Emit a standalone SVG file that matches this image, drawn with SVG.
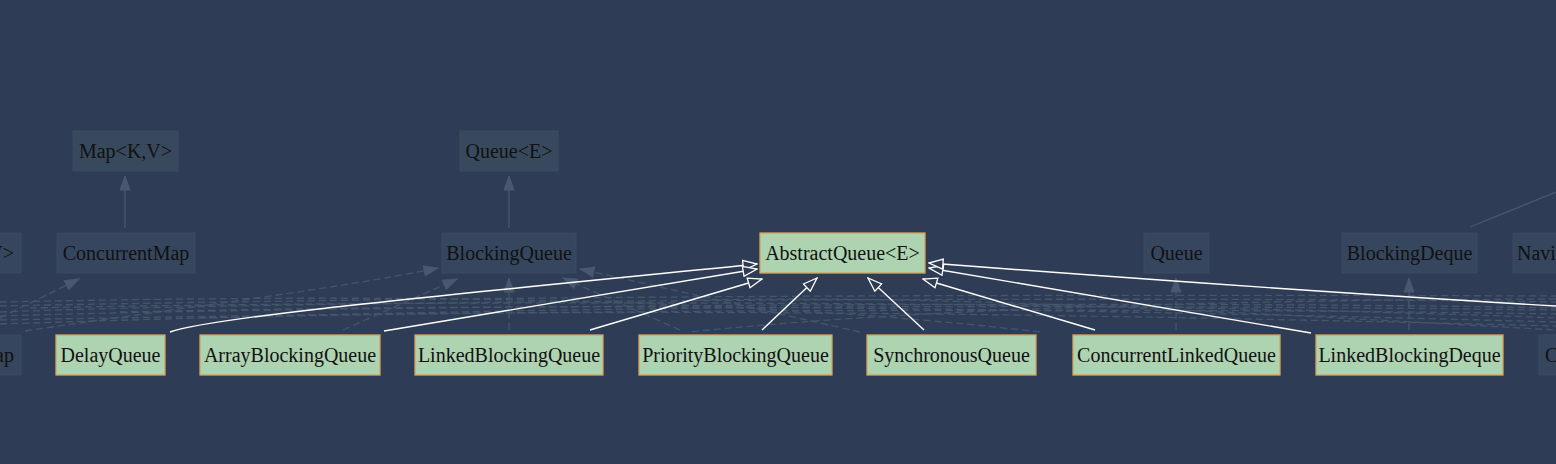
<svg xmlns="http://www.w3.org/2000/svg" width="1556" height="464" viewBox="0 0 1556 464">
<defs>
<style>
.dim rect{fill:#36465e;stroke:#3a4a62;stroke-width:1}
.dimt rect{fill:#38495d;stroke:#3b4c60;stroke-width:1}
.cls rect{fill:#add3b1;stroke:#d9a45a;stroke-width:1.3}
text{font-family:"Liberation Serif","DejaVu Serif","Times New Roman",serif;font-size:20px;fill:#111}
.w{fill:none;stroke:#ffffff;stroke-width:1.4}
.s{fill:none;stroke:#48596f;stroke-width:1.3}
.d{fill:none;stroke:#45566c;stroke-width:1.3;stroke-dasharray:7,4}
</style>
<marker id="hw" markerWidth="16" markerHeight="12" refX="15" refY="6" orient="auto" markerUnits="userSpaceOnUse">
<path d="M1,1 L15,6 L1,11 Z" fill="#2e3d55" stroke="#ffffff" stroke-width="1.3"/>
</marker>
<marker id="fs" markerWidth="16" markerHeight="12" refX="15" refY="6" orient="auto" markerUnits="userSpaceOnUse">
<path d="M1,1 L15,6 L1,11 Z" fill="#48596f" stroke="#48596f" stroke-width="1"/>
</marker>
</defs>
<rect x="0" y="0" width="1556" height="464" fill="#2e3d55"/>

<g id="connectors">
<path class="d" d="M0,312 C300,300 1200,296 1556,302"/>
<path class="d" d="M0,316 C300,306 1200,300 1556,308"/>
<path class="d" d="M0,320 C400,312 1100,306 1556,314"/>
<path class="d" d="M30,308 C400,300 1100,300 1556,318"/>
<path class="d" d="M0,306 C500,296 1000,294 1556,296"/>
<path class="d" d="M120,312 C500,304 900,304 1556,322"/>
<path class="d" d="M0,324 C500,308 900,302 1556,310"/>
<path class="d" d="M200,318 C600,308 1000,312 1556,326"/>
<path class="d" d="M700,300 C900,296 1100,304 1556,330"/>
<path class="d" d="M0,302 C300,296 700,292 1040,332"/>
<path class="d" d="M1556,299 C1200,300 900,310 690,332"/>
<path class="d" d="M0,318 L79,279" marker-end="url(#fs)"/>
<path class="d" d="M25,331 C200,305 330,290 438,268" marker-end="url(#fs)"/>
<path class="d" d="M343,330 L457,279" marker-end="url(#fs)"/>
<path class="d" d="M509,330 L509,278" marker-end="url(#fs)"/>
<path class="d" d="M680,330 L563,278" marker-end="url(#fs)"/>
<path class="d" d="M860,332 L580,269" marker-end="url(#fs)"/>
<path class="d" d="M1176,330 L1176,278" marker-end="url(#fs)"/>
<path class="d" d="M1409,330 L1409,278" marker-end="url(#fs)"/>
<path class="s" d="M125,228 L125,176" marker-end="url(#fs)"/>
<path class="s" d="M509,228 L509,176" marker-end="url(#fs)"/>
<path class="s" d="M1470,227 L1556,192"/>
<path class="w" d="M170,332 C215,316 480,292 757,264" marker-end="url(#hw)"/>
<path class="w" d="M384,331 L757,269" marker-end="url(#hw)"/>
<path class="w" d="M590,330 L762,279" marker-end="url(#hw)"/>
<path class="w" d="M762,330 L817,278" marker-end="url(#hw)"/>
<path class="w" d="M924,330 L868,278" marker-end="url(#hw)"/>
<path class="w" d="M1095,330 L923,279" marker-end="url(#hw)"/>
<path class="w" d="M1311,333 L929,268" marker-end="url(#hw)"/>
<path class="w" d="M1556,306 C1300,291 1100,276 929,263" marker-end="url(#hw)"/>
</g>

<g id="n-mapkv" class="dimt"><rect x="73" y="131" width="105" height="40"/><text x="125.5" y="158" text-anchor="middle">Map&lt;K,V&gt;</text></g>
<g id="n-queueE" class="dimt"><rect x="460" y="131" width="98" height="40"/><text x="509" y="158" text-anchor="middle">Queue&lt;E&gt;</text></g>
<g id="n-leftkv" class="dim"><rect x="-20" y="233" width="41" height="40"/><text x="14" y="260" text-anchor="end">V&gt;</text></g>
<g id="n-concurrentmap" class="dim"><rect x="57" y="233" width="138" height="40"/><text x="126" y="260" text-anchor="middle">ConcurrentMap</text></g>
<g id="n-blockingqueue" class="dim"><rect x="442" y="233" width="134" height="40"/><text x="509" y="260" text-anchor="middle">BlockingQueue</text></g>
<g id="n-abstractqueue" class="cls"><rect x="760" y="233" width="165" height="40"/><text x="842.5" y="260" text-anchor="middle">AbstractQueue&lt;E&gt;</text></g>
<g id="n-queue" class="dim"><rect x="1144" y="233" width="65" height="40"/><text x="1176.5" y="260" text-anchor="middle">Queue</text></g>
<g id="n-blockingdeque" class="dim"><rect x="1342" y="233" width="135" height="40"/><text x="1409.5" y="260" text-anchor="middle">BlockingDeque</text></g>
<g id="n-navi" class="dim"><rect x="1513" y="233" width="60" height="40"/><text x="1517" y="260">Navi</text></g>
<g id="n-leftap" class="dim"><rect x="-20" y="335" width="41" height="40"/><text x="14" y="362" text-anchor="end">ap</text></g>
<g id="n-delayqueue" class="cls"><rect x="56" y="335" width="109" height="40"/><text x="110.5" y="362" text-anchor="middle">DelayQueue</text></g>
<g id="n-arrayblockingqueue" class="cls"><rect x="200" y="335" width="180" height="40"/><text x="290" y="362" text-anchor="middle">ArrayBlockingQueue</text></g>
<g id="n-linkedblockingqueue" class="cls"><rect x="415" y="335" width="188" height="40"/><text x="509" y="362" text-anchor="middle">LinkedBlockingQueue</text></g>
<g id="n-priorityblockingqueue" class="cls"><rect x="639" y="335" width="193" height="40"/><text x="735.5" y="362" text-anchor="middle">PriorityBlockingQueue</text></g>
<g id="n-synchronousqueue" class="cls"><rect x="867" y="335" width="169" height="40"/><text x="951.5" y="362" text-anchor="middle">SynchronousQueue</text></g>
<g id="n-concurrentlinkedqueue" class="cls"><rect x="1073" y="335" width="207" height="40"/><text x="1176.5" y="362" text-anchor="middle">ConcurrentLinkedQueue</text></g>
<g id="n-linkedblockingdeque" class="cls"><rect x="1316" y="335" width="187" height="40"/><text x="1409.5" y="362" text-anchor="middle">LinkedBlockingDeque</text></g>
<g id="n-rightc" class="dim"><rect x="1539" y="335" width="40" height="40"/><text x="1545" y="362">C</text></g>
</svg>
